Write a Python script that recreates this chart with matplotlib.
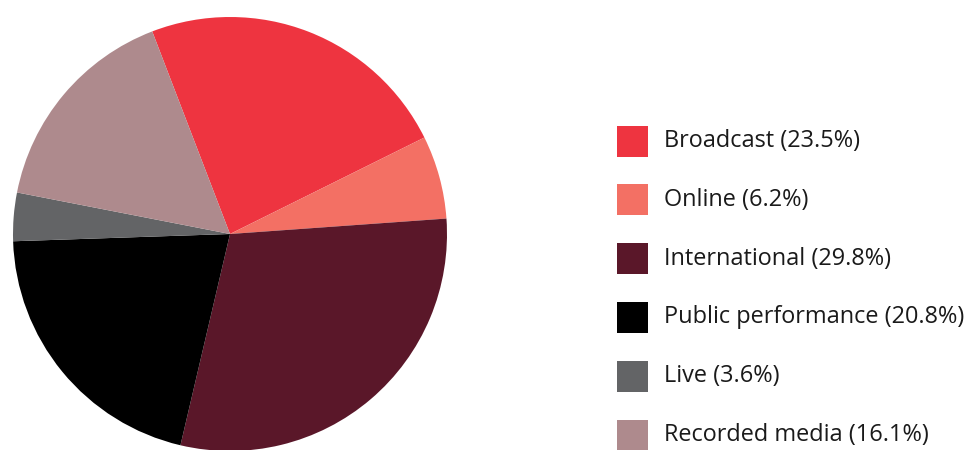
import matplotlib
matplotlib.use("Agg")
import matplotlib.pyplot as plt
from matplotlib.patches import Rectangle

categories = ["Broadcast", "Online", "International", "Public performance", "Live", "Recorded media"]
shares = [23.5, 6.2, 29.8, 20.8, 3.6, 16.1]
colors = ["#EE3440", "#F37064", "#5A1729", "#000000", "#636466", "#AE8A8D"]

W, H = 971, 450
fig = plt.figure(figsize=(W / 100, H / 100), dpi=100)

# pie: centre (230, 234) px from top-left, radius 217 px
cx, cy, r = 230, 234, 217
ax = fig.add_axes([(cx - r) / W, (H - cy - r) / H, 2 * r / W, 2 * r / H])
ax.pie(shares, colors=colors, startangle=111, counterclock=False,
       radius=1.0, wedgeprops=dict(linewidth=0))
ax.set_xlim(-1, 1)
ax.set_ylim(-1, 1)
ax.axis("off")

# legend drawn in pixel coordinates
lax = fig.add_axes([0, 0, 1, 1])
lax.set_xlim(0, W)
lax.set_ylim(H, 0)
lax.axis("off")
box = 31
y0, step = 141, 58.8
for i, (name, val, col) in enumerate(zip(categories, shares, colors)):
    y = y0 + i * step
    lax.add_patch(Rectangle((617, y - box / 2), box, box, facecolor=col, edgecolor="none"))
    lax.text(664, y, f"{name} ({val}%)", va="center", ha="left",
             fontsize=16.9, family="Open Sans", color="#1a1a1a")

fig.savefig("out.png", dpi=100)
